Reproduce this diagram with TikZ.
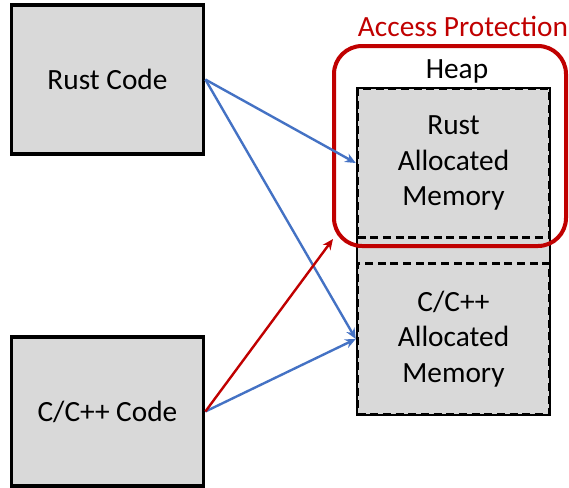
\documentclass[tikz,border=0pt]{standalone}
\usepackage{fontspec}
\setmainfont{Carlito}
\usetikzlibrary{arrows.meta,positioning}
\definecolor{boxgray}{HTML}{D9D9D9}
\definecolor{callblue}{HTML}{4472C4}
\definecolor{guardred}{HTML}{C00000}

\begin{document}
\begin{tikzpicture}[
        x=0.75pt, y=-0.75pt,
        font=\fontsize{22}{26.5}\selectfont,
        % code blocks on the left
        code_box/.style={draw=black, fill=boxgray, line width=2.8pt, minimum width=144pt, minimum height=111.5pt, inner sep=0pt, align=center},
        % heap and its regions
        heap_box/.style={draw=black, fill=boxgray, line width=0.9pt, minimum width=144.75pt, minimum height=245.25pt, inner sep=0pt},
        mem_box/.style={draw=black, line width=2.6pt, dash pattern=on 6pt off 3.5pt, minimum width=144pt, inner sep=0pt, align=center},
        guard_box/.style={draw=guardred, line width=3pt, rounded corners=21pt, minimum width=174pt, minimum height=150pt, inner sep=0pt},
        call/.style={-{Stealth[length=8pt,width=7pt]}, draw=callblue, line width=1.8pt},
        bad_call/.style={-{Stealth[length=8pt,width=7pt]}, draw=guardred, line width=1.8pt}
    ]

    \useasboundingbox (0,0) rectangle (569,487);

    % --- code ---
    \node[code_box] (rust_code) at (107.5,79.5) {Rust Code};
    \node[code_box] (cpp_code) at (107.5,411.5) {C/C++ Code};

    % --- heap ---
    \node[heap_box] (heap) at (453.5,251.5) {};
    \node (heap_label) at (457,71) {Heap};
    \node[mem_box, minimum height=111.5pt] (rust_mem) at (453.5,163) {Rust\\Allocated\\Memory};
    \node[mem_box, minimum height=113pt] (cpp_mem) at (453.5,339) {C/C++\\Allocated\\Memory};

    % --- protected region ---
    \node[guard_box] (guard) at (450,146) {};
    \node[text=guardred] (guard_label) at (463,26) {Access Protection};
    \coordinate (guard_hit) at (333,239);

    % --- accesses ---
    \draw[call] (rust_code.east) -- (rust_mem.west);
    \draw[call] (rust_code.east) -- (cpp_mem.west);
    \draw[call] (cpp_code.east) -- (cpp_mem.west);
    \draw[bad_call] (cpp_code.east) -- (guard_hit);

\end{tikzpicture}
\end{document}
